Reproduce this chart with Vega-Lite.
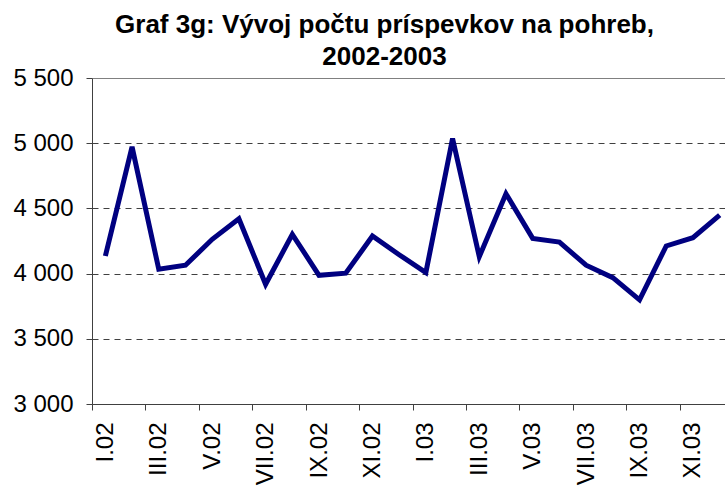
{
  "$schema": "https://vega.github.io/schema/vega-lite/v6.json",
  "width": 633,
  "height": 326,
  "autosize": {"type": "none"},
  "padding": {"left": 92, "top": 78, "right": 0, "bottom": 82},
  "background": "white",
  "config": {"view": {"stroke": null}, "font": "Liberation Sans"},
  "title": {
    "text": ["Graf 3g: Vývoj počtu príspevkov na pohreb,", "2002-2003"],
    "font": "Liberation Sans",
    "fontSize": 26,
    "fontWeight": "bold",
    "color": "black",
    "lineHeight": 32,
    "anchor": "middle",
    "dx": -24,
    "offset": -4
  },
  "data": {
    "values": [
      {"i": 1, "month": "I.02", "pocet": 4135},
      {"i": 2, "month": "II.02", "pocet": 4972},
      {"i": 3, "month": "III.02", "pocet": 4033},
      {"i": 4, "month": "IV.02", "pocet": 4064},
      {"i": 5, "month": "V.02", "pocet": 4263},
      {"i": 6, "month": "VI.02", "pocet": 4421},
      {"i": 7, "month": "VII.02", "pocet": 3918},
      {"i": 8, "month": "VIII.02", "pocet": 4301},
      {"i": 9, "month": "IX.02", "pocet": 3987},
      {"i": 10, "month": "X.02", "pocet": 4003},
      {"i": 11, "month": "XI.02", "pocet": 4288},
      {"i": 12, "month": "XII.02", "pocet": 4145},
      {"i": 13, "month": "I.03", "pocet": 4008},
      {"i": 14, "month": "II.03", "pocet": 5036},
      {"i": 15, "month": "III.03", "pocet": 4130},
      {"i": 16, "month": "IV.03", "pocet": 4612},
      {"i": 17, "month": "V.03", "pocet": 4270},
      {"i": 18, "month": "VI.03", "pocet": 4242},
      {"i": 19, "month": "VII.03", "pocet": 4064},
      {"i": 20, "month": "VIII.03", "pocet": 3969},
      {"i": 21, "month": "IX.03", "pocet": 3799},
      {"i": 22, "month": "X.03", "pocet": 4212},
      {"i": 23, "month": "XI.03", "pocet": 4275},
      {"i": 24, "month": "XII.03", "pocet": 4449}
    ]
  },
  "mark": {"type": "line", "color": "#000080", "strokeWidth": 5, "clip": true},
  "encoding": {
    "x": {
      "field": "i",
      "type": "quantitative",
      "scale": {"domain": [0.5, 24.2], "nice": false, "zero": false},
      "axis": {
        "title": null,
        "values": [0.5, 2.5, 4.5, 6.5, 8.5, 10.5, 12.5, 14.5, 16.5, 18.5, 20.5, 22.5],
        "labelExpr": "['I.02','III.02','V.02','VII.02','IX.02','XI.02','I.03','III.03','V.03','VII.03','IX.03','XI.03'][floor(datum.value / 2)]",
        "labelAngle": -90,
        "labelOffset": 13.35,
        "labelFont": "Liberation Sans",
        "labelFontSize": 24,
        "labelColor": "black",
        "labelPadding": 12,
        "labelFlush": false,
        "labelOverlap": false,
        "tickSize": 6,
        "tickColor": "#404040",
        "domainColor": "#404040",
        "grid": false
      }
    },
    "y": {
      "field": "pocet",
      "type": "quantitative",
      "scale": {"domain": [3000, 5500], "nice": false, "zero": false},
      "axis": {
        "title": null,
        "values": [3000, 3500, 4000, 4500, 5000, 5500],
        "labelExpr": "replace(format(datum.value, ','), ',', ' ')",
        "labelFont": "Liberation Sans",
        "labelFontSize": 24,
        "labelColor": "black",
        "labelPadding": 13,
        "labelFlush": false,
        "labelOverlap": false,
        "tickSize": 6,
        "tickColor": "#404040",
        "domainColor": "#404040",
        "grid": true,
        "gridColor": {"condition": {"test": "datum.value >= 5500", "value": "#808080"}, "value": "#404040"},
        "gridDash": {"condition": {"test": "datum.value >= 5500", "value": []}, "value": [6, 5]},
        "gridWidth": 1
      }
    }
  }
}
